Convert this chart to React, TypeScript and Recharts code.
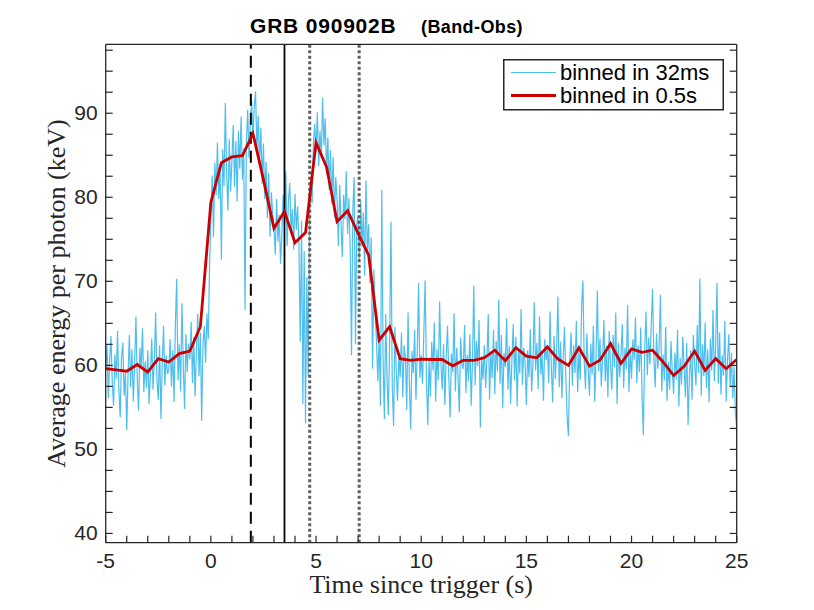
import { ComposedChart, Line, XAxis, YAxis, ReferenceLine, Legend } from "recharts";

// 1/16 s resampling of the 32 ms light curve, starting at t = -5 s
const fineStart = -5;
const fineStep = 0.0625;
const fineValues = [
  59.8, 62.4, 56.1, 60.7, 63.5, 57.9, 55.2, 61.3, 58.4, 64.1, 57.2, 53.8, 60.9, 62.7, 56.4, 59.1,
  52.3, 58.8, 63.6, 57.4, 61.9, 55.7, 60.2, 65.8, 58.3, 54.6, 62.1, 59.7, 64.4, 56.8, 60.5, 57.3,
  61.8, 55.4, 58.9, 63.2, 57.1, 60.6, 66.3, 58.2, 55.9, 62.4, 53.6, 60.1, 64.7, 57.6, 61.2, 59.0,
  59.4, 63.1, 57.5, 61.8, 55.6, 64.9, 70.3, 58.2, 62.5, 56.9, 67.4, 60.1, 54.8, 63.7, 59.2, 62.6,
  60.7, 65.2, 57.9, 63.4, 56.3, 61.8, 66.1, 58.7, 63.9, 53.4, 62.4, 64.7, 60.3, 66.2, 63.1, 71.8,
  77.4, 82.6, 75.3, 84.1, 80.2, 86.5, 79.8, 83.9, 72.6, 85.7, 81.3, 91.2, 82.8, 78.4, 86.9, 80.7,
  84.3, 88.6, 81.2, 86.7, 79.5, 87.9, 83.4, 89.6, 82.1, 85.8, 66.6, 86.3, 90.4, 84.7, 88.9, 91.5,
  87.2, 90.8, 92.6, 85.4, 89.7, 83.9, 88.3, 81.6, 86.4, 79.8, 84.2, 77.5, 82.9, 75.3, 80.6, 78.1,
  76.4, 73.2, 79.8, 74.7, 77.9, 72.1, 75.6, 80.3, 76.8, 83.1, 74.2, 79.5, 81.7, 75.9, 78.6, 73.8,
  80.4, 76.1, 78.9, 74.3, 62.8, 77.2, 55.4, 73.6, 53.1, 70.5, 58.7, 76.8, 81.9, 79.3, 86.4, 88.7,
  85.3, 90.1, 83.7, 87.9, 84.6, 91.8, 86.2, 89.4, 82.7, 87.1, 80.9, 85.6, 79.3, 84.8, 77.6, 82.4,
  79.7, 74.2, 81.5, 76.8, 72.9, 80.3, 77.4, 83.1, 75.6, 79.9, 73.8, 61.2, 78.6, 82.4, 62.5, 76.9,
  77.8, 72.4, 79.6, 74.1, 78.2, 70.7, 82.0, 73.5, 76.8, 69.8, 75.2, 59.6, 71.4, 66.3, 62.8, 58.1,
  63.4, 55.2, 80.9, 60.7, 53.6, 66.1, 58.3, 54.1, 62.9, 77.1, 57.4, 52.8, 64.6, 59.5, 55.8, 61.2,
  58.6, 63.9, 56.2, 62.4, 60.8, 54.7, 66.3, 57.9, 52.4, 61.7, 59.1, 64.2, 55.9, 61.6, 69.8, 58.5,
  61.2, 57.8, 63.9, 70.1, 58.4, 52.9, 60.6, 56.3, 62.8, 59.4, 65.1, 55.7, 61.9, 58.2, 67.6, 60.3,
  57.1, 62.5, 55.3, 60.9, 64.7, 58.6, 53.8, 61.4, 59.2, 66.2, 56.9, 62.1, 58.8, 54.4, 63.3, 60.1,
  59.6, 64.8, 56.7, 61.3, 58.1, 63.7, 55.2, 60.4, 69.5, 57.6, 62.9, 59.9, 65.4, 52.6, 61.1, 58.3,
  62.4, 57.3, 60.8, 66.1, 55.9, 61.7, 58.5, 64.2, 56.6, 62.9, 59.3, 67.8, 57.8, 63.6, 54.9, 61.5,
  59.8, 65.6, 57.1, 62.3, 55.4, 60.7, 64.9, 58.2, 63.4, 55.1, 61.9, 59.0, 66.7, 57.7, 62.1, 60.4,
  55.3, 61.8, 58.6, 64.3, 56.9, 60.2, 67.5, 59.4, 62.7, 57.2, 65.8, 58.9, 61.4, 55.8, 63.1, 60.6,
  62.2, 57.9, 66.4, 59.7, 55.6, 63.5, 58.4, 61.6, 68.2, 57.4, 62.8, 56.1, 60.9, 64.6, 58.7, 53.9,
  51.6, 60.3, 63.9, 57.6, 62.4, 59.1, 65.3, 56.8, 61.7, 58.3, 66.9, 70.1, 60.5, 57.2, 63.8, 59.6,
  56.4, 62.6, 58.9, 64.7, 55.7, 61.1, 68.9, 59.3, 63.2, 57.5, 60.8, 65.4, 58.1, 62.3, 56.2, 64.1,
  60.2, 57.1, 63.6, 59.8, 66.3, 55.4, 62.7, 58.6, 61.4, 64.9, 57.3, 62.1, 59.5, 67.2, 56.8, 61.9,
  58.4, 63.1, 60.6, 65.7, 57.9, 62.4, 59.2, 64.5, 56.3, 51.7, 61.8, 66.4, 58.8, 63.3, 60.1, 64.9,
  69.1, 60.7, 57.4, 63.8, 59.6, 62.2, 68.4, 56.9, 61.3, 58.2, 64.6, 55.8, 60.4, 57.1, 62.9, 59.3,
  56.6, 61.5, 58.3, 64.2, 55.1, 60.9, 57.7, 63.4, 59.8, 56.2, 62.7, 52.9, 58.6, 61.8, 55.9, 63.6,
  60.2, 57.6, 64.8, 59.1, 70.3, 56.4, 62.5, 58.7, 65.1, 57.3, 61.9, 55.6, 63.2, 59.4, 66.6, 58.1,
  62.4, 69.8, 57.8, 63.9, 56.5, 61.2, 58.8, 65.3, 55.7, 60.6, 63.7, 57.4, 61.5, 56.1, 59.9, 54.3,
  52.5,
];

// 0.5 s bins
const coarseStart = -5;
const coarseStep = 0.5;
const coarseValues = [
  59.6, 59.45, 59.3, 60.1, 59.2, 60.8, 60.4, 61.4, 61.7, 64.6,
  79.4, 84.1, 84.8, 84.95, 87.6, 82.1, 76.3, 78.3, 74.6, 75.8,
  86.5, 83.6, 77.1, 78.4, 75.7, 73.1, 63.0, 64.6, 60.8, 60.6,
  60.75, 60.7, 60.7, 59.95, 60.6, 60.6, 60.9, 61.8, 60.55, 62.1,
  61.1, 60.9, 62.2, 60.75, 60.0, 62.1, 59.9, 60.6, 62.6, 60.25,
  61.95, 61.55, 61.8, 60.4, 58.8, 59.9, 61.7, 59.4, 60.8, 59.6,
  60.7,
];

const seriesNames = ["binned in 32ms", "binned in 0.5s"];

const dashedAt = [1.9];
const solidAt = [3.5];
const dottedAt = [4.7, 7.05];

const xTicks = [-5, -4, -3, -2, -1, 0, 1, 2, 3, 4, 5, 6, 7, 8, 9, 10, 11, 12, 13, 14, 15, 16, 17, 18, 19, 20, 21, 22, 23, 24, 25];
const xLabels = [-5, 0, 5, 10, 15, 20, 25];
const yTicks = [40, 42.5, 45, 47.5, 50, 52.5, 55, 57.5, 60, 62.5, 65, 67.5, 70, 72.5, 75, 77.5, 80, 82.5, 85, 87.5, 90, 92.5, 95, 97.5];
const yLabels = [40, 50, 60, 70, 80, 90];

const fineData = fineValues.map((v, i) => ({ t: fineStart + i * fineStep, v }));
const coarseData = coarseValues.map((v, i) => ({ t: coarseStart + i * coarseStep, v }));

const AXIS = "#262626";
const BLUE = "#4dbeee";
const RED = "#cc0000";
const TICK_LEN = 7;
const sans = "'Liberation Sans', Arial, Helvetica, sans-serif";
const serif = "'Liberation Serif', 'Times New Roman', serif";
const tickFont = { fontFamily: sans, fontSize: 21, fill: AXIS };

const BottomTick = ({ x, y, payload }: any) => (
  <g>
    <line x1={x} x2={x} y1={y} y2={y - TICK_LEN} stroke={AXIS} strokeWidth={1.2} />
    {xLabels.includes(payload.value) && (
      <text x={x} y={y + 25} textAnchor="middle" {...tickFont}>{payload.value}</text>
    )}
  </g>
);

const TopTick = ({ x, y }: any) => (
  <line x1={x} x2={x} y1={y} y2={y + TICK_LEN} stroke={AXIS} strokeWidth={1.2} />
);

const LeftTick = ({ x, y, payload }: any) => (
  <g>
    <line x1={x} x2={x + TICK_LEN} y1={y} y2={y} stroke={AXIS} strokeWidth={1.2} />
    {yLabels.includes(payload.value) && (
      <text x={x - 8} y={y + 7} textAnchor="end" {...tickFont}>{payload.value}</text>
    )}
  </g>
);

const RightTick = ({ x, y }: any) => (
  <line x1={x} x2={x - TICK_LEN} y1={y} y2={y} stroke={AXIS} strokeWidth={1.2} />
);

const YTitle = ({ viewBox }: any) => {
  const x = viewBox.x + viewBox.width - 41;
  const y = viewBox.y + viewBox.height / 2;
  return (
    <text x={x} y={y} transform={`rotate(-90, ${x}, ${y})`} textAnchor="middle" fontFamily={serif} fontSize={26} fill={AXIS}>
      Average energy per photon (keV)
    </text>
  );
};

const XTitle = ({ viewBox }: any) => (
  <text x={viewBox.x + viewBox.width / 2} y={viewBox.y + 50} textAnchor="middle" fontFamily={serif} fontSize={26} fill={AXIS}>
    Time since trigger (s)
  </text>
);

// legend entries in the order of seriesNames, with their own line width
const LegendBox = ({ payload }: any) => {
  const items = seriesNames
    .map((n) => (payload || []).find((p: any) => p.value === n))
    .filter(Boolean);
  return (
    <svg width={222} height={53} style={{ display: "block" }}>
      <rect x={0.75} y={0.75} width={219.5} height={50} fill="#fff" stroke={AXIS} strokeWidth={1.5} />
      {items.map((p: any, i: number) => (
        <g key={p.value}>
          <line
            x1={8}
            x2={53}
            y1={13.5 + i * 23}
            y2={13.5 + i * 23}
            stroke={p.color}
            strokeWidth={p.value === seriesNames[0] ? 1.2 : 2.8}
          />
          <text x={57} y={21 + i * 23} fontFamily={sans} fontSize={22} fill="#000">{p.value}</text>
        </g>
      ))}
    </svg>
  );
};

export default function App() {
  return (
    <ComposedChart width={806} height={600} margin={{ top: 26.3, right: 67.3, bottom: 25.3, left: 37.7 }}>
      <text x={242} y={25} fontFamily={sans} fontWeight="bold" fill="#000">
        <tspan fontSize={21} letterSpacing={0.8}>GRB 090902B</tspan>
        <tspan x={413} fontSize={18} letterSpacing={0.4}>(Band-Obs)</tspan>
      </text>
      <XAxis
        dataKey="t"
        type="number"
        domain={[-5, 25]}
        ticks={xTicks}
        interval={0}
        allowDataOverflow
        tick={BottomTick}
        tickLine={false}
        tickSize={0}
        tickMargin={0}
        height={40}
        axisLine={{ stroke: AXIS, strokeWidth: 1.3 }}
        label={{ content: XTitle }}
      />
      <XAxis
        xAxisId="top"
        orientation="top"
        type="number"
        domain={[-5, 25]}
        ticks={xTicks}
        interval={0}
        allowDataOverflow
        tick={TopTick}
        tickLine={false}
        tickSize={0}
        tickMargin={0}
        height={10}
        axisLine={{ stroke: AXIS, strokeWidth: 1.3 }}
      />
      <YAxis
        type="number"
        domain={[38.9, 98.2]}
        ticks={yTicks}
        interval={0}
        allowDataOverflow
        tick={LeftTick}
        tickLine={false}
        tickSize={0}
        tickMargin={0}
        width={60}
        axisLine={{ stroke: AXIS, strokeWidth: 1.3 }}
        label={{ content: YTitle }}
      />
      <YAxis
        yAxisId="right"
        orientation="right"
        type="number"
        domain={[38.9, 98.2]}
        ticks={yTicks}
        interval={0}
        allowDataOverflow
        tick={RightTick}
        tickLine={false}
        tickSize={0}
        tickMargin={0}
        width={10}
        axisLine={{ stroke: AXIS, strokeWidth: 1.3 }}
      />
      <Legend
        layout="vertical"
        align="center"
        verticalAlign="middle"
        wrapperStyle={{ left: 494.7, top: 51, width: 222, height: 53 }}
        content={LegendBox}
      />
      <Line
        data={fineData}
        dataKey="v"
        name={seriesNames[0]}
        stroke={BLUE}
        strokeWidth={1.2}
        dot={false}
        activeDot={false}
        isAnimationActive={false}
      />
      {dashedAt.map((t) => (
        <ReferenceLine key={`d${t}`} x={t} stroke="#000" strokeWidth={2} strokeDasharray="12 7" />
      ))}
      {solidAt.map((t) => (
        <ReferenceLine key={`s${t}`} x={t} stroke="#000" strokeWidth={1.8} />
      ))}
      {dottedAt.map((t) => (
        <ReferenceLine key={`o${t}`} x={t} stroke="#5e5e5e" strokeWidth={3} strokeDasharray="3 2.5" />
      ))}
      <Line
        data={coarseData}
        dataKey="v"
        name={seriesNames[1]}
        stroke={RED}
        strokeWidth={2.8}
        dot={false}
        activeDot={false}
        isAnimationActive={false}
      />
    </ComposedChart>
  );
}
